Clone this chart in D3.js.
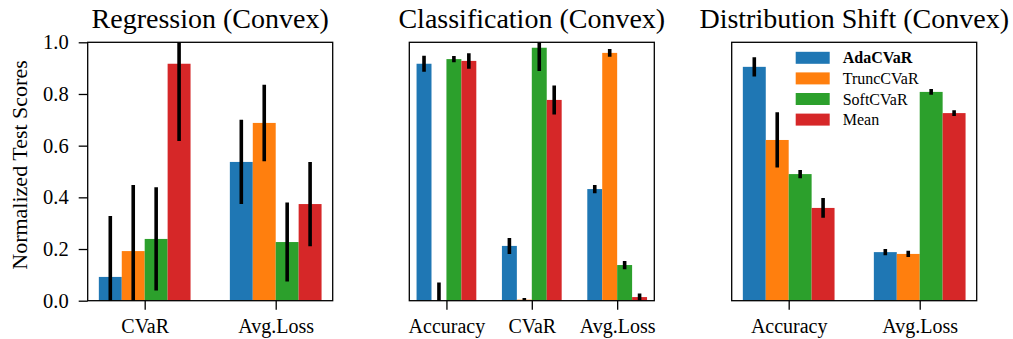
<!DOCTYPE html>
<html>
<head>
<meta charset="utf-8">
<script src="https://cdn.jsdelivr.net/npm/d3@7"></script>
<style>
  body { margin: 0; background: #fff; }
  svg text { font-family: "Liberation Serif", "Times New Roman", serif; fill: #000; }
</style>
</head>
<body>
<svg id="chart" width="1013" height="339"></svg>
<script>
// methods and colours (matplotlib tab10)
const methods = ["AdaCVaR", "TruncCVaR", "SoftCVaR", "Mean"];
const methodColors = ["#1f77b4", "#ff7f0e", "#2ca02c", "#d62728"];

// Regression (Convex)
const regressionCats = ["CVaR", "Avg.Loss"];
const regressionMeans = [[0.092, 0.192, 0.239, 0.917], [0.537, 0.688, 0.227, 0.374]];
const regressionErrs  = [[0.236, 0.256, 0.200, 0.299], [0.163, 0.148, 0.153, 0.163]];

// Classification (Convex)
const classificationCats = ["Accuracy", "CVaR", "Avg.Loss"];
const classificationMeans = [[0.917, 0.0, 0.935, 0.928], [0.212, 0.004, 0.979, 0.777], [0.432, 0.959, 0.138, 0.014]];
const classificationErrs  = [[0.031, 0.070, 0.012, 0.030], [0.031, 0.006, 0.090, 0.056], [0.016, 0.015, 0.016, 0.014]];

// Distribution Shift (Convex)
const shiftCats = ["Accuracy", "Avg.Loss"];
const shiftMeans = [[0.905, 0.622, 0.490, 0.359], [0.188, 0.181, 0.808, 0.726]];
const shiftErrs  = [[0.037, 0.107, 0.016, 0.038], [0.012, 0.012, 0.011, 0.011]];

const yTicks = [0, 0.2, 0.4, 0.6, 0.8, 1.0];

const panels = [
  { title: "Regression (Convex)", cats: regressionCats, means: regressionMeans, errs: regressionErrs, left: 87.7, yAxis: true },
  { title: "Classification (Convex)", cats: classificationCats, means: classificationMeans, errs: classificationErrs, left: 409.3 },
  { title: "Distribution Shift (Convex)", cats: shiftCats, means: shiftMeans, errs: shiftErrs, left: 731.7, legend: true }
];

const svg = d3.select("#chart");
const plotTop = 42.3, plotBottom = 300.7, panelW = 245;
const barW = 0.175;
const serif = "'Liberation Serif', 'Times New Roman', serif";

const y = d3.scaleLinear().domain([0, 1]).range([plotBottom, plotTop]);

panels.forEach((p, pi) => {
  const n = p.cats.length;
  const x = d3.scaleLinear().domain([-0.435, n - 1 + 0.435]).range([p.left, p.left + panelW]);

  const g = svg.append("g");
  const clipId = "clip" + pi;
  svg.append("clipPath").attr("id", clipId)
    .append("rect").attr("x", p.left).attr("y", plotTop).attr("width", panelW).attr("height", plotBottom - plotTop);

  // flatten to one record per bar
  const bars = [];
  p.cats.forEach((c, ci) => {
    methods.forEach((m, mi) => {
      bars.push({ ci, mi, v: p.means[ci][mi], e: p.errs[ci][mi] });
    });
  });
  const offset = mi => (mi - 1.5) * barW;

  const plot = g.append("g").attr("clip-path", `url(#${clipId})`);
  plot.selectAll("rect.bar")
    .data(bars)
    .join("rect")
      .attr("class", "bar")
      .attr("x", d => x(d.ci + offset(d.mi) - barW / 2))
      .attr("width", d => x(barW) - x(0))
      .attr("y", d => y(d.v))
      .attr("height", d => y(0) - y(d.v))
      .attr("fill", d => methodColors[d.mi]);

  plot.selectAll("line.err")
    .data(bars)
    .join("line")
      .attr("class", "err")
      .attr("x1", d => x(d.ci + offset(d.mi)))
      .attr("x2", d => x(d.ci + offset(d.mi)))
      .attr("y1", d => y(d.v - d.e))
      .attr("y2", d => y(d.v + d.e))
      .attr("stroke", "#000")
      .attr("stroke-width", 3.6);

  // x axis
  const xAxis = g.append("g")
    .attr("transform", `translate(0,${plotBottom})`)
    .call(d3.axisBottom(x).tickValues(d3.range(n)).tickFormat(i => p.cats[i]).tickSize(9).tickPadding(9));
  xAxis.attr("font-family", serif);
  xAxis.select(".domain").remove();
  xAxis.selectAll("line").attr("stroke", "#000").attr("stroke-width", 1.3);
  xAxis.selectAll("text").style("font-size", "20px").style("font-family", serif);

  if (p.yAxis) {
    const yAxis = g.append("g")
      .attr("transform", `translate(${p.left},0)`)
      .call(d3.axisLeft(y).tickValues(yTicks).tickFormat(d3.format(".1f")).tickSize(9).tickPadding(10));
    yAxis.attr("font-family", serif);
    yAxis.select(".domain").remove();
    yAxis.selectAll("line").attr("stroke", "#000").attr("stroke-width", 1.3);
    yAxis.selectAll("text").style("font-size", "20.5px").style("font-family", serif);

    svg.append("text")
      .attr("transform", `translate(27,165) rotate(-90)`)
      .attr("text-anchor", "middle")
      .style("font-size", "22px")
      .text("Normalized Test Scores");
  }

  // frame
  g.append("rect")
    .attr("x", p.left).attr("y", plotTop)
    .attr("width", panelW).attr("height", plotBottom - plotTop)
    .attr("fill", "none").attr("stroke", "#000").attr("stroke-width", 1.3);

  // title
  g.append("text")
    .attr("x", p.left + panelW / 2)
    .attr("y", 28)
    .attr("text-anchor", "middle")
    .style("font-size", "28px")
    .text(p.title);

  if (p.legend) {
    const lg = g.append("g").attr("transform", `translate(${p.left + 64},57.8)`);
    const rows = lg.selectAll("g").data(methods).join("g")
      .attr("transform", (d, i) => `translate(0,${i * 20.6})`);
    rows.append("rect")
      .attr("x", 0).attr("y", -6)
      .attr("width", 34).attr("height", 12)
      .attr("fill", (d, i) => methodColors[i]);
    rows.append("text")
      .attr("x", 47).attr("dy", "0.35em")
      .style("font-size", "16px")
      .style("font-weight", (d, i) => i === 0 ? "bold" : "normal")
      .text(d => d);
  }
});
</script>
</body>
</html>
